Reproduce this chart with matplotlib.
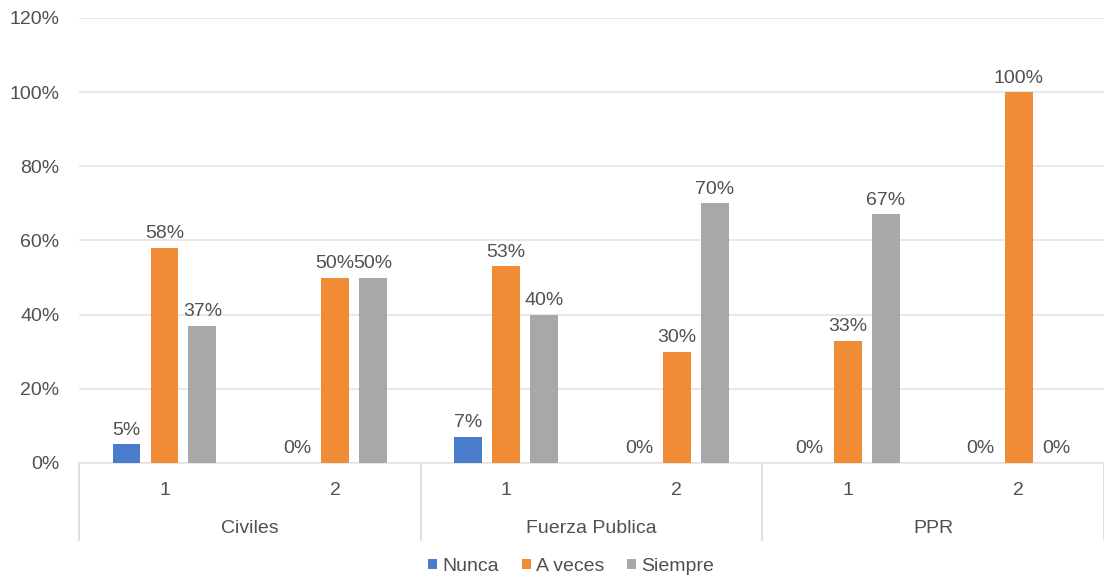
import numpy as np
import matplotlib
matplotlib.use('Agg')
import matplotlib.pyplot as plt
from matplotlib.transforms import blended_transform_factory

plt.rcParams['font.family'] = ['Liberation Sans', 'DejaVu Sans']

groups = ['Civiles', 'Fuerza Publica', 'PPR']
subcats = ['1', '2', '1', '2', '1', '2']
series = ['Nunca', 'A veces', 'Siempre']
nunca = [5, 0, 7, 0, 0, 0]
a_veces = [58, 50, 53, 30, 33, 100]
siempre = [37, 50, 40, 70, 67, 0]
colors = ['#4A7CCB', '#F08C35', '#A8A8A8']

txt = '#505050'
fig = plt.figure(figsize=(11.04, 5.78), dpi=100)
ax = fig.add_axes([0.0716, 0.199, 0.9284, 0.77])

x = np.arange(len(subcats))
width = 0.163
step = 0.222
for i, (name, vals, c) in enumerate(zip(series, [nunca, a_veces, siempre], colors)):
    pos = x + (i - 1) * step
    ax.bar(pos, vals, width, color=c, label=name, zorder=3)
    for p, v in zip(pos, vals):
        ax.text(p, v + 1.5, '%d%%' % v, ha='center', va='bottom',
                fontsize=14, color=txt)

ax.set_xlim(-0.5, len(subcats) - 0.5)
ax.set_ylim(0, 120)
ax.set_yticks(range(0, 121, 20))
ax.set_yticklabels(['%d%%' % t for t in range(0, 121, 20)])
ax.yaxis.grid(True, color='#E4E4E4', linewidth=1.2, zorder=0)
ax.tick_params(axis='y', length=0, labelsize=14, labelcolor=txt, pad=14)
ax.set_xticks([])
for s in ['top', 'right', 'left']:
    ax.spines[s].set_visible(False)
ax.spines['bottom'].set_color('#E4E4E4')
ax.spines['bottom'].set_linewidth(1.2)

# two-level category axis
tr = blended_transform_factory(ax.transData, ax.transAxes)
for xi, lab in zip(x, subcats):
    ax.text(xi, -0.062, lab, transform=tr, ha='center', va='center',
            fontsize=14, color=txt)
for gi, g in enumerate(groups):
    ax.text(2 * gi + 0.5, -0.148, g, transform=tr, ha='center', va='center',
            fontsize=14, color=txt)
for b in [-0.5, 1.5, 3.5, 5.5]:
    ax.plot([b, b], [0, -0.173], transform=tr, color='#DADADA',
            linewidth=1.2, clip_on=False)

ax.legend(loc='center', bbox_to_anchor=(0.48, -0.232), ncol=3,
          frameon=False, fontsize=14, labelcolor=txt, handlelength=0.45,
          handleheight=0.45, handletextpad=0.25, columnspacing=1.2,
          borderpad=0)

fig.savefig('out.png', dpi=100, facecolor='white')
